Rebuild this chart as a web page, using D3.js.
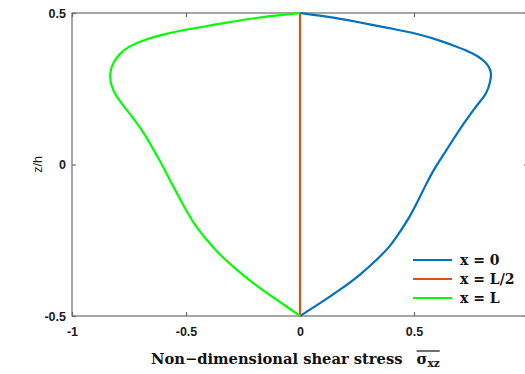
<!DOCTYPE html>
<html>
<head>
<meta charset="utf-8">
<script src="https://cdn.jsdelivr.net/npm/d3@7/dist/d3.min.js"></script>
<style>
  html, body { margin: 0; padding: 0; background: #fff; overflow: hidden; }
  svg { display: block; }
</style>
</head>
<body>
<svg id="chart" width="525" height="374"></svg>
<script>
// Through-thickness profiles of the non-dimensional transverse shear stress
const zLevels = ["x = 0", "x = L/2", "x = L"];

// x = 0 section: [stress, z/h]
const stressX0 = [
  [0.000, 0.500], [0.124, 0.488], [0.249, 0.471], [0.395, 0.449],
  [0.512, 0.433], [0.614, 0.409], [0.687, 0.389], [0.760, 0.367],
  [0.804, 0.345], [0.830, 0.323], [0.840, 0.301], [0.835, 0.273],
  [0.819, 0.235], [0.789, 0.207], [0.760, 0.180], [0.724, 0.141],
  [0.689, 0.103], [0.643, 0.048], [0.585, -0.018],
  [0.548, -0.073], [0.512, -0.128], [0.482, -0.172], [0.439, -0.222],
  [0.395, -0.271], [0.336, -0.315], [0.263, -0.365], [0.175, -0.414],
  [0.088, -0.458], [0.000, -0.500]
];
// x = L/2 section
const stressXHalf = [
  [0.000, 0.500], [0.000, -0.500]
];
// x = L section
const stressXL = [
  [0.000, 0.500], [-0.088, 0.493], [-0.175, 0.486], [-0.322, 0.469],
  [-0.468, 0.449], [-0.585, 0.433], [-0.687, 0.411], [-0.753, 0.389],
  [-0.789, 0.367], [-0.819, 0.339], [-0.836, 0.301], [-0.829, 0.262],
  [-0.811, 0.229], [-0.760, 0.180], [-0.726, 0.147], [-0.694, 0.114],
  [-0.668, 0.083], [-0.645, 0.052], [-0.600, -0.007], [-0.556, -0.073],
  [-0.512, -0.134], [-0.468, -0.194], [-0.409, -0.249], [-0.351, -0.299],
  [-0.278, -0.348], [-0.205, -0.392], [-0.132, -0.431], [-0.058, -0.469],
  [0.000, -0.500]
];
const seriesColors = ["#0072BD", "#D95319", "#00FF00"];

const xTicks = [-1, -0.5, 0, 0.5, 1];
const xTickLabels = ["-1", "-0.5", "0", "0.5", "1"];
const yTicks = [-0.5, 0, 0.5];
const yTickLabels = ["-0.5", "0", "0.5"];

const svg = d3.select("#chart");
const plotL = 72, plotR = 528, plotT = 13, plotB = 316;

const x = d3.scaleLinear().domain([-1, 1]).range([plotL, plotR]);
const y = d3.scaleLinear().domain([-0.5, 0.5]).range([plotB, plotT]);

const axisColor = "#6b6b6b";
const tickFont = "Liberation Sans, Arial, sans-serif";

// Box frame
svg.append("rect")
  .attr("x", plotL).attr("y", plotT)
  .attr("width", plotR - plotL).attr("height", plotB - plotT)
  .attr("fill", "none").attr("stroke", axisColor).attr("stroke-width", 1.2);

// Inward ticks on all four sides
const tickLen = 4;
const xAxisB = d3.axisBottom(x).tickValues(xTicks).tickSizeInner(-tickLen).tickSizeOuter(0).tickFormat((d, i) => xTickLabels[i]).tickPadding(11);
const xAxisT = d3.axisTop(x).tickValues(xTicks).tickSizeInner(-tickLen).tickSizeOuter(0).tickFormat("");
const yAxisL = d3.axisLeft(y).tickValues(yTicks).tickSizeInner(-tickLen).tickSizeOuter(0).tickFormat((d, i) => yTickLabels[i]).tickPadding(6);
const yAxisR = d3.axisRight(y).tickValues(yTicks).tickSizeInner(-tickLen).tickSizeOuter(0).tickFormat("");

function styleAxis(g) {
  g.select(".domain").remove();
  g.selectAll(".tick line").attr("stroke", axisColor).attr("stroke-width", 1.2);
  g.selectAll(".tick text")
    .attr("fill", "#1a1a1a")
    .style("font-family", tickFont)
    .style("font-size", "12.5px")
    .style("font-weight", "bold");
}

svg.append("g").attr("transform", `translate(0,${plotB})`).call(xAxisB).call(styleAxis);
svg.append("g").attr("transform", `translate(0,${plotT})`).call(xAxisT).call(styleAxis);
svg.append("g").attr("transform", `translate(${plotL},0)`).call(yAxisL).call(styleAxis);
svg.append("g").attr("transform", `translate(${plotR},0)`).call(yAxisR).call(styleAxis);

// Profiles, drawn as smooth B-splines through the sampled points
const line = d3.line()
  .x(d => x(d[0]))
  .y(d => y(d[1]))
  .curve(d3.curveBasis);

const allSeries = [stressX0, stressXHalf, stressXL];
allSeries.forEach((s, i) => {
  svg.append("path")
    .datum(s)
    .attr("d", line)
    .attr("fill", "none")
    .attr("stroke", seriesColors[i])
    .attr("stroke-width", 2.2)
    .attr("stroke-linejoin", "round");
});

// Legend
const legendFont = "DejaVu Serif, Liberation Serif, serif";
const legend = svg.append("g");
zLevels.forEach((name, i) => {
  const ly = 260 + i * 19;
  legend.append("line")
    .attr("x1", 413).attr("x2", 452)
    .attr("y1", ly).attr("y2", ly)
    .attr("stroke", seriesColors[i]).attr("stroke-width", 2.2);
  legend.append("text")
    .attr("x", 460).attr("y", ly + 5)
    .attr("fill", "#111")
    .style("font-family", legendFont)
    .style("font-size", "14px")
    .style("font-weight", "bold")
    .text(name);
});

// Axis titles
svg.append("text")
  .attr("transform", `translate(42,${y(0)}) rotate(-90)`)
  .attr("text-anchor", "middle")
  .attr("fill", "#1a1a1a")
  .style("font-family", tickFont)
  .style("font-size", "12.5px")
  .text("z/h");

const xTitle = svg.append("text")
  .attr("x", 151).attr("y", 364)
  .attr("fill", "#111")
  .style("font-family", legendFont)
  .style("font-size", "14.7px")
  .style("font-weight", "bold");
xTitle.append("tspan").text("Non\u2212dimensional shear stress ");
const sigma = xTitle.append("tspan").attr("dx", 9).text("\u03c3");
const sub = xTitle.append("tspan").attr("dy", 3).style("font-size", "10.5px").text("xz");

// Overbar across the symbol and its subscript
const bs = sigma.node().getBBox();
const bb = sub.node().getBBox();
svg.append("line")
  .attr("x1", bs.x).attr("x2", bb.x + bb.width)
  .attr("y1", 351).attr("y2", 351)
  .attr("stroke", "#111").attr("stroke-width", 1.2);
</script>
</body>
</html>
